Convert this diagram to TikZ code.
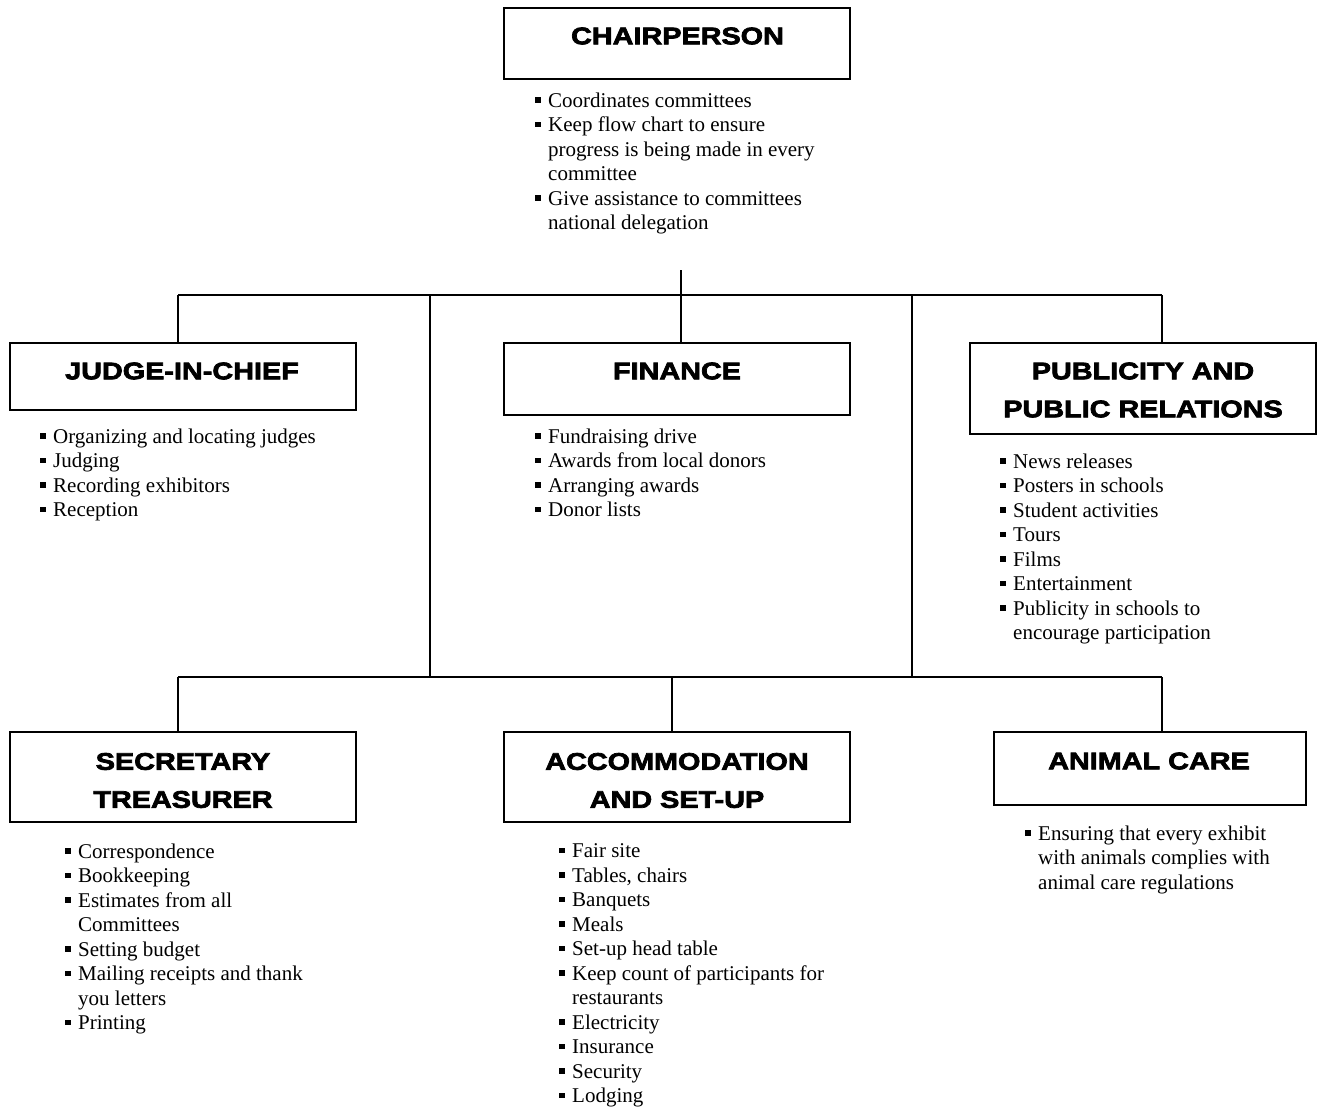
\documentclass[tikz,border=0pt]{standalone}
\usepackage{fontspec}
\setmainfont{Liberation Serif}
\newfontfamily\headfont[FakeStretch=1.2,BoldFeatures={FakeBold=3}]{Liberation Sans}
\newcommand{\bl}{\makebox[13pt][l]{\rule[4.3pt]{5.8pt}{5.8pt}}}
\newcommand{\ct}{\hspace*{13pt}}
\begin{document}
\begin{tikzpicture}[x=1pt,y=-1pt,
  box/.style={draw,line width=1.6pt,minimum width=346pt,inner sep=0pt},
  ttl/.style={inner sep=0pt,align=center,font=\headfont\bfseries\fontsize{24pt}{38pt}\selectfont},
  lst/.style={inner sep=0pt,anchor=north west,align=left,font=\fontsize{21pt}{24.5pt}\selectfont},
  conn/.style={line width=1.6pt}]
\useasboundingbox (0,0) rectangle (1319,1109);
% boxes
\node[box,minimum height=71pt] (chair) at (677,43.5) {};
\node[box,minimum height=67pt] (judge) at (183,376.5) {};
\node[box,minimum height=72pt] (fin) at (677,379) {};
\node[box,minimum height=91pt] (pub) at (1143,388.5) {};
\node[box,minimum height=90pt] (sec) at (183,777) {};
\node[box,minimum height=90pt] (acc) at (677,777) {};
\node[box,minimum width=312pt,minimum height=73pt] (ani) at (1150,768.5) {};
% titles
\node[ttl] (chairT) at (677.5,36) {CHAIRPERSON};
\node[ttl] (judgeT) at (182,371) {JUDGE-IN-CHIEF};
\node[ttl] (finT) at (677,371) {FINANCE};
\node[ttl] (pubT) at (1143,390) {PUBLICITY AND\\PUBLIC RELATIONS};
\node[ttl] (secT) at (183,780.5) {SECRETARY\\TREASURER};
\node[ttl] (accT) at (677,780.5) {ACCOMMODATION\\AND SET-UP};
\node[ttl] (aniT) at (1149,761) {ANIMAL CARE};
% lists
\node[lst] (chairL) at (535,92.5) {\bl Coordinates committees\\
\bl Keep flow chart to ensure\\
\ct progress is being made in every\\
\ct committee\\
\bl Give assistance to committees\\
\ct national delegation};
\node[lst] (judgeL) at (40,428.5) {\bl Organizing and locating judges\\
\bl Judging\\
\bl Recording exhibitors\\
\bl Reception};
\node[lst] (finL) at (535,428.5) {\bl Fundraising drive\\
\bl Awards from local donors\\
\bl Arranging awards\\
\bl Donor lists};
\node[lst] (pubL) at (1000,453.5) {\bl News releases\\
\bl Posters in schools\\
\bl Student activities\\
\bl Tours\\
\bl Films\\
\bl Entertainment\\
\bl Publicity in schools to\\
\ct encourage participation};
\node[lst] (secL) at (65,843.5) {\bl Correspondence\\
\bl Bookkeeping\\
\bl Estimates from all\\
\ct Committees\\
\bl Setting budget\\
\bl Mailing receipts and thank\\
\ct you letters\\
\bl Printing};
\node[lst] (accL) at (559,843.5) {\bl Fair site\\
\bl Tables, chairs\\
\bl Banquets\\
\bl Meals\\
\bl Set-up head table\\
\bl Keep count of participants for\\
\ct restaurants\\
\bl Electricity\\
\bl Insurance\\
\bl Security\\
\bl Lodging};
\node[lst] (aniL) at (1025,825.5) {\bl Ensuring that every exhibit\\
\ct with animals complies with\\
\ct animal care regulations};
% connectors
\coordinate (stem) at (681,270);
\coordinate (b1m) at (681,295);
\coordinate (b1l) at (178,295);
\coordinate (b1r) at (1162,295);
\coordinate (v1t) at (430,295);
\coordinate (v2t) at (912,295);
\coordinate (b2l) at (178,677);
\coordinate (b2r) at (1162,677);
\coordinate (v1b) at (430,677);
\coordinate (v2b) at (912,677);
\coordinate (b2m) at (672,677);
\draw[conn] (stem) -- (b1m);
\draw[conn] (b1l) -- (b1r);
\draw[conn] (b1l) -- (b1l |- judge.north);
\draw[conn] (b1m) -- (b1m |- fin.north);
\draw[conn] (b1r) -- (b1r |- pub.north);
\draw[conn] (v1t) -- (v1b);
\draw[conn] (v2t) -- (v2b);
\draw[conn] (b2l) -- (b2r);
\draw[conn] (b2l) -- (b2l |- sec.north);
\draw[conn] (b2m) -- (b2m |- acc.north);
\draw[conn] (b2r) -- (b2r |- ani.north);
\end{tikzpicture}
\end{document}
